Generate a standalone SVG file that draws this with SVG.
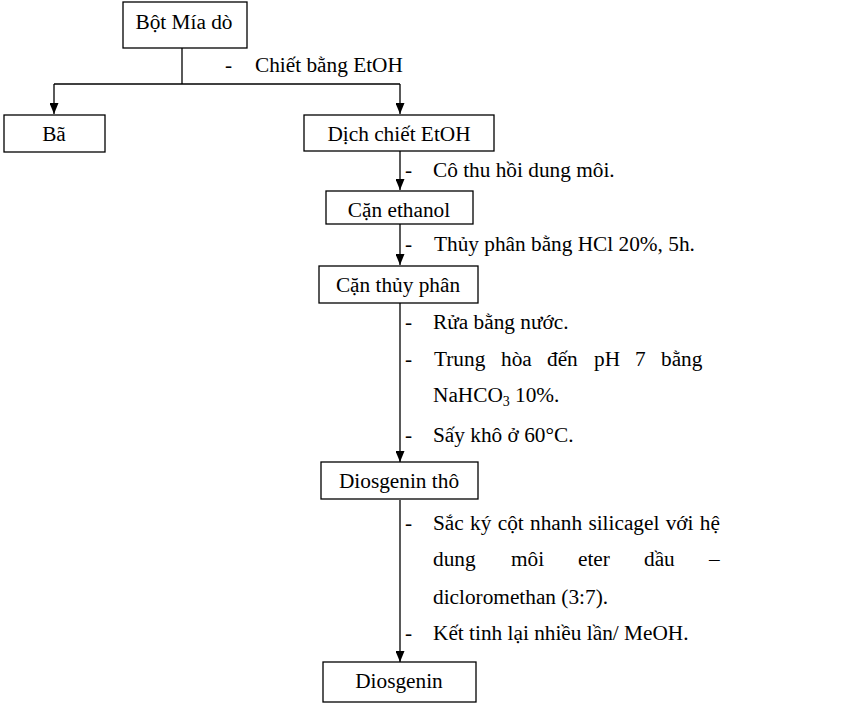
<svg xmlns="http://www.w3.org/2000/svg" width="842" height="714" viewBox="0 0 842 714">
<style>
.box{fill:#fff;stroke:#000;stroke-width:1.3}
.t{font-family:'Liberation Serif','DejaVu Serif',serif;font-size:21.3px;fill:#000}
.c{text-anchor:middle}
.ln{stroke:#000;stroke-width:1.3;fill:none}
</style>
<defs>
<marker id="ah" markerWidth="9" markerHeight="11" refX="4.5" refY="11" orient="0" markerUnits="userSpaceOnUse" viewBox="0 0 9 11">
<path d="M0,0 L9,0 L4.5,11 Z" fill="#000"/>
</marker>
</defs>
<rect width="842" height="714" fill="#fff"/>
<g id="connectors">
<line class="ln" x1="182" y1="48" x2="182" y2="84"/>
<line class="ln" x1="54" y1="84" x2="400" y2="84" stroke="#444"/>
<line class="ln" x1="54" y1="84" x2="54" y2="114" stroke-width="2" marker-end="url(#ah)"/>
<line class="ln" x1="400" y1="84" x2="400" y2="114" marker-end="url(#ah)"/>
<line class="ln" x1="400" y1="151" x2="400" y2="190" marker-end="url(#ah)"/>
<line class="ln" x1="400" y1="224" x2="400" y2="265" marker-end="url(#ah)"/>
<line class="ln" x1="400" y1="303" x2="400" y2="462" marker-end="url(#ah)"/>
<line class="ln" x1="400" y1="500" x2="400" y2="662" marker-end="url(#ah)"/>
</g>
<g font-family="Liberation Serif, DejaVu Serif, serif">
<g id="node-bot-mia-do">
<rect class="box" x="123" y="2" width="124" height="46"/>
<text class="t c" x="184" y="29">Bột Mía dò</text>
</g>
<g id="node-ba">
<rect class="box" x="4" y="115" width="101" height="37"/>
<text class="t c" x="54" y="141">Bã</text>
</g>
<g id="node-dich-chiet">
<rect class="box" x="304" y="115" width="190" height="36"/>
<text class="t c" x="399" y="141">Dịch chiết EtOH</text>
</g>
<g id="node-can-ethanol">
<rect class="box" x="326" y="191" width="147" height="33"/>
<text class="t c" x="399" y="217">Cặn ethanol</text>
</g>
<g id="node-can-thuy-phan">
<rect class="box" x="319" y="266" width="159" height="37"/>
<text class="t c" x="398" y="292">Cặn thủy phân</text>
</g>
<g id="node-diosgenin-tho">
<rect class="box" x="321" y="462" width="157" height="37"/>
<text class="t c" x="399" y="488">Diosgenin thô</text>
</g>
<g id="node-diosgenin">
<rect class="box" x="323" y="662" width="153" height="40"/>
<text class="t c" x="399" y="688">Diosgenin</text>
</g>
<g id="labels">
<text class="t" x="225" y="72">-</text>
<text class="t" x="255" y="72">Chiết bằng EtOH</text>
<text class="t" x="405" y="177">-</text>
<text class="t" x="433" y="177">Cô thu hồi dung môi.</text>
<text class="t" x="405" y="251">-</text>
<text class="t" x="434" y="251">Thủy phân bằng HCl 20%, 5h.</text>
<text class="t" x="405" y="329">-</text>
<text class="t" x="433" y="329">Rửa bằng nước.</text>
<text class="t" x="405" y="366">-</text>
<text class="t" y="366"><tspan x="434">Trung</tspan><tspan x="501">hòa</tspan><tspan x="547">đến</tspan><tspan x="594">pH</tspan><tspan x="635">7</tspan><tspan x="661">bằng</tspan></text>
<text class="t" x="433" y="402">NaHCO<tspan font-size="14" dy="4">3</tspan><tspan dy="-4" x="515">10%.</tspan></text>
<text class="t" x="405" y="442">-</text>
<text class="t" x="433" y="442">Sấy khô ở 60°C.</text>
<text class="t" x="405" y="530">-</text>
<text class="t" x="433" y="530" word-spacing="1">Sắc ký cột nhanh silicagel với hệ</text>
<text class="t" y="566"><tspan x="433">dung</tspan><tspan x="511">môi</tspan><tspan x="578">eter</tspan><tspan x="644">dầu</tspan><tspan x="709">–</tspan></text>
<text class="t" x="433" y="604">dicloromethan (3:7).</text>
<text class="t" x="405" y="640">-</text>
<text class="t" x="433" y="640">Kết tinh lại nhiều lần/ MeOH.</text>
</g>
</g>
</svg>
